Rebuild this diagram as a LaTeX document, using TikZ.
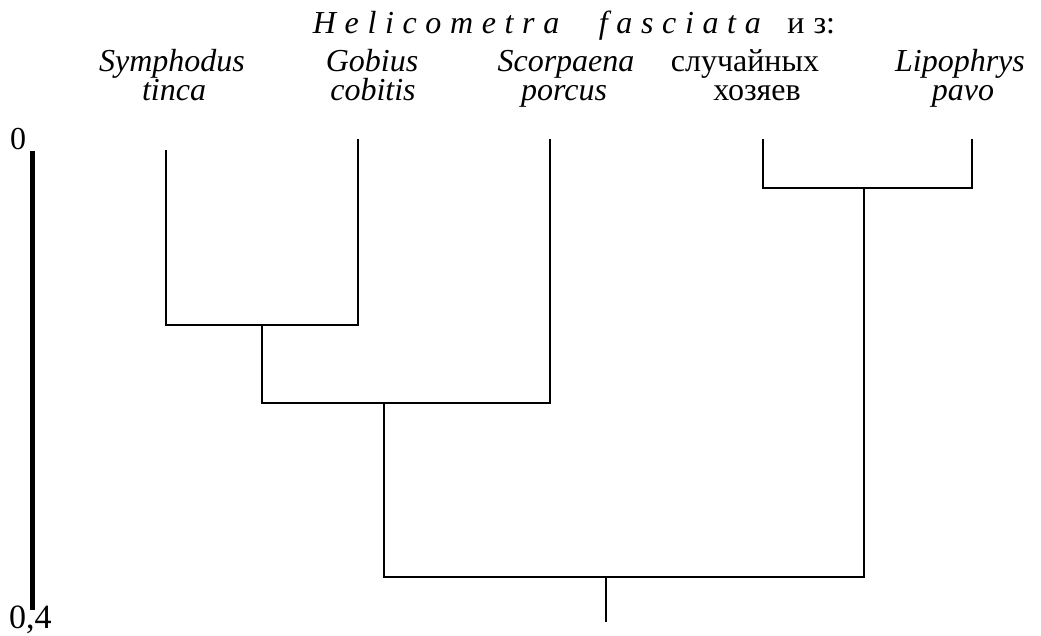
\documentclass[tikz,border=0pt]{standalone}
\usepackage{fontspec}
\setmainfont{Liberation Serif}
\begin{document}
\begin{tikzpicture}[x=1pt,y=-1pt,
  branch/.style={line width=2pt},
  scalebar/.style={line width=5pt},
  lbl/.style={font=\fontsize{32}{36}\selectfont, inner sep=0pt, anchor=base,
    text height=20pt, text depth=6pt},
  taxon/.style={lbl, font=\fontsize{32}{36}\selectfont\itshape}]
\useasboundingbox (0,0) rectangle (1041,635);

% heading, letter-spaced
\node[lbl] (title) at (574,33)
  {\itshape\addfontfeature{LetterSpace=27}Helicometra\hspace{23pt} fasciata\hspace{10pt}
   \upshape\addfontfeature{LetterSpace=0}и\hspace{9pt}з:};

% taxa labels (two lines each)
\node[taxon] (t1a) at (172,71) {Symphodus};
\node[taxon] (t1b) at (174,100) {tinca};
\node[taxon] (t2a) at (372,71) {Gobius};
\node[taxon] (t2b) at (373,100) {cobitis};
\node[taxon] (t3a) at (566,71) {Scorpaena};
\node[taxon] (t3b) at (564,100) {porcus};
\node[lbl]   (t4a) at (745,71) {случайных};
\node[lbl]   (t4b) at (757,100) {хозяев};
\node[taxon] (t5a) at (960,71) {Lipophrys};
\node[taxon] (t5b) at (963,100) {pavo};

% leaf tips
\coordinate (sy) at (166,150);
\coordinate (go) at (358,139);
\coordinate (sc) at (550,139);
\coordinate (sl) at (763,139);
\coordinate (li) at (972,139);

% internal nodes
\coordinate (n1) at (262,325);
\coordinate (n2) at (384,403);
\coordinate (n3) at (864,188);
\coordinate (root) at (606,577);
\coordinate (base) at (606,622);

\draw[branch] (sy) |- (n1) -| (go);
\draw[branch] (n1) |- (n2) -| (sc);
\draw[branch] (sl) |- (n3) -| (li);
\draw[branch] (n2) |- (root) -| (n3);
\draw[branch] (root) -- (base);

% distance scale
\coordinate (s0) at (32,151);
\coordinate (s1) at (32,610);
\draw[scalebar] (s0) -- (s1);
\node[lbl] (z0) at (18,149) {0};
\node[lbl, anchor=base west, font=\fontsize{34}{38}\selectfont] (z1) at (9,628) {0,4};
\end{tikzpicture}
\end{document}
